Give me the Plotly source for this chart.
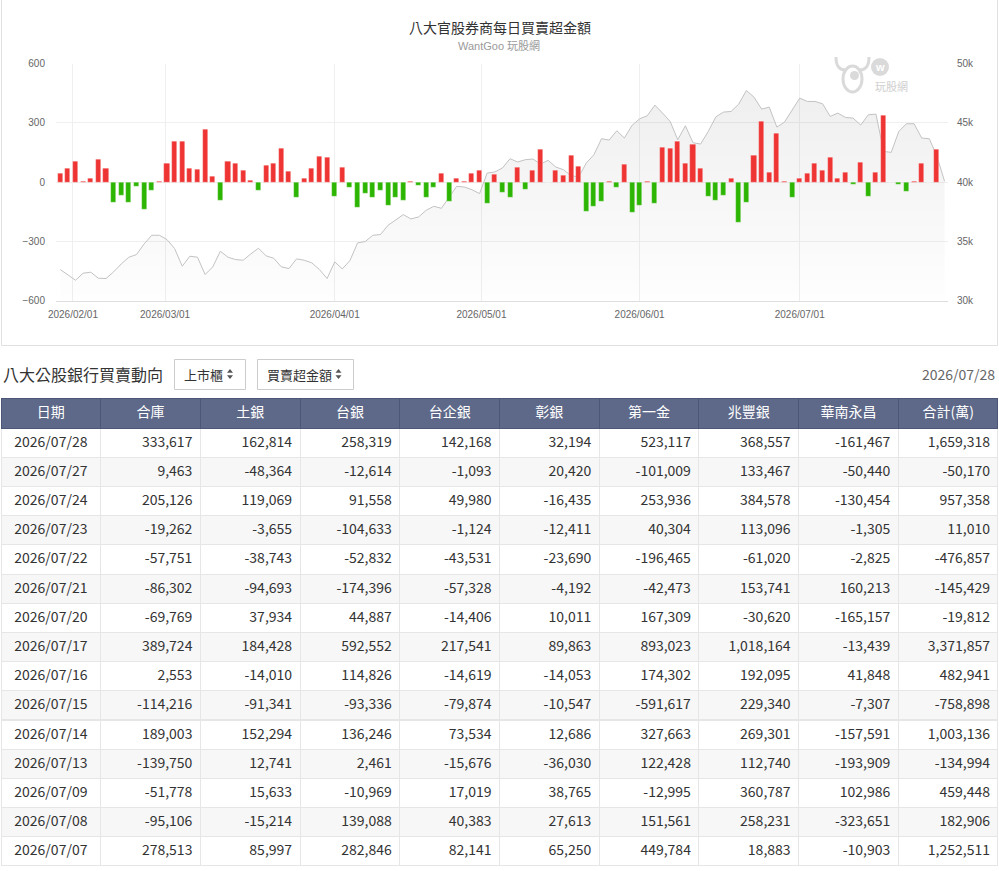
"""八大官股券商每日買賣超金額 chart with the daily table of the eight public banks."""
import pandas as pd
import plotly.graph_objects as go

W, H = 999, 871
CJK = "Noto Sans CJK TC"
LATIN = "Liberation Sans, Noto Sans CJK TC"

# Trading calendar (Taiwan market closed on these weekdays)
HOLIDAYS = ["2026-02-12", "2026-02-13", "2026-02-16", "2026-02-17", "2026-02-18",
            "2026-02-19", "2026-02-20", "2026-02-27", "2026-04-03", "2026-04-06",
            "2026-05-01", "2026-06-19", "2026-07-10"]
TRADE_DAYS = [d for d in pd.bdate_range("2026-01-29", "2026-07-29")
              if d.strftime("%Y-%m-%d") not in HOLIDAYS]

# daily net buy of the eight official brokers (億), 2026/01/29 .. 2026/07/28
NET_BUY = [42, 66, 103, 0.3, 20, 116, 66, -103, -66, -103,
           -25, -140, -44, 3, 93, 204, 204, 66, 61, 265,
           29, -93, 106, 93, 56, 7, -44, 83, 93, 170,
           51, -76, 20, 66, 128, 125, -72, 71, -30, -130,
           -56, -76, -44, -121, -79, -93, 0.4, -17, -76, -30,
           42, -98, 20, 3, 42, 56, -111, 37, -52, -79,
           74, -39, 56, 167, -5, 56, 32, 133, 78, -148,
           -125, -98, 2, -30, 88, -152, -121, 0.5, -108, 174,
           170, 207, 93, 189, 66, -71, -93, -66, 17, -207,
           -103, 133, 307, 47, 248, 2, -76, 20, 42, 93,
           56, 125.3, 18.3, 45.9, -13.5, 100.3, -75.9, 48.3, 337.2, -2.0,
           -14.5, -47.7, 1.1, 95.7, -5.0, 165.9]

# TAIEX close, 2026/01/29 .. 2026/07/29
INDEX_CLOSE = [32612, 32163, 31714, 32303, 32387, 31882, 31854, 32416, 33090, 33652,
               33876, 34775, 35506, 35506, 35140, 34382, 32893, 33736, 33652, 32191,
               32837, 34157, 33652, 33455, 33399, 33933, 34410, 33764, 33567, 32837,
               32697, 33511, 33399, 33174, 32612, 31854, 33258, 32668, 33371, 34860,
               34972, 35506, 35562, 36348, 36826, 37247, 36882, 37050, 37612, 37949,
               37781, 38736, 39635, 39579, 39354, 39017, 40758, 40843, 41180, 41966,
               41685, 41882, 41938, 41517, 41826, 41264, 41039, 40534, 40421, 41601,
               42303, 43652, 43539, 44326, 43708, 44775, 45337, 45590, 46489, 45815,
               45112, 43567, 44747, 43315, 43202, 44270, 45500, 45899, 45955, 46573,
               47725, 47163, 46152, 46320, 44635, 45056, 46096, 47079, 46798, 46798,
               46601, 45534, 45815, 45449, 45393, 44803, 45674, 45730, 42584, 42500,
               44270, 44916, 44916, 43708, 43652, 42163, 40056]

MONTH_TICKS = ["2026-02-01", "2026-03-01", "2026-04-01", "2026-05-01", "2026-06-01", "2026-07-01"]

# table
HEADERS = ["日期", "合庫", "土銀", "台銀", "台企銀", "彰銀", "第一金", "兆豐銀", "華南永昌", "合計(萬)"]
TABLE_DATES = ["2026/07/28", "2026/07/27", "2026/07/24", "2026/07/23", "2026/07/22",
               "2026/07/21", "2026/07/20", "2026/07/17", "2026/07/16", "2026/07/15",
               "2026/07/14", "2026/07/13", "2026/07/09", "2026/07/08", "2026/07/07"]
HEKU = [333617, 9463, 205126, -19262, -57751, -86302, -69769, 389724, 2553, -114216,
        189003, -139750, -51778, -95106, 278513]
TUYIN = [162814, -48364, 119069, -3655, -38743, -94693, 37934, 184428, -14010, -91341,
         152294, 12741, 15633, -15214, 85997]
TAIYIN = [258319, -12614, 91558, -104633, -52832, -174396, 44887, 592552, 114826, -93336,
          136246, 2461, -10969, 139088, 282846]
TAIQIYIN = [142168, -1093, 49980, -1124, -43531, -57328, -14406, 217541, -14619, -79874,
            73534, -15676, 17019, 40383, 82141]
ZHANGYIN = [32194, 20420, -16435, -12411, -23690, -4192, 10011, 89863, -14053, -10547,
            12686, -36030, 38765, 27613, 65250]
DIYIJIN = [523117, -101009, 253936, 40304, -196465, -42473, 167309, 893023, 174302, -591617,
           327663, 122428, -12995, 151561, 449784]
ZHAOFENG = [368557, 133467, 384578, 113096, -61020, 153741, -30620, 1018164, 192095, 229340,
            269301, 112740, 360787, 258231, 18883]
HUANAN = [-161467, -50440, -130454, -1305, -2825, 160213, -165157, -13439, 41848, -7307,
          -157591, -193909, 102986, -323651, -10903]
TOTAL = [1659318, -50170, 957358, 11010, -476857, -145429, -19812, 3371857, 482941, -758898,
         1003136, -134994, 459448, 182906, 1252511]


def px(x):
    return x / W


def py(y):
    return 1 - y / H


def day_position(day):
    """Position of a calendar day on the trading-day axis (interpolated on closed days)."""
    stamps = pd.DatetimeIndex(TRADE_DAYS)
    day = pd.Timestamp(day)
    i = stamps.searchsorted(day)
    if stamps[i] == day:
        return i
    prev, nxt = stamps[i - 1], stamps[i]
    return i - 1 + (day - prev).days / (nxt - prev).days


def pt(x, y):
    return f"{px(x):.5f},{py(y):.5f}"


def polygon(*xy):
    return "M " + " L ".join(pt(x, y) for x, y in xy) + " Z"


fig = go.Figure()

fig.add_trace(go.Scatter(
    x=list(range(len(INDEX_CLOSE))), y=INDEX_CLOSE, yaxis="y", mode="lines",
    line=dict(color="#c2c2c2", width=1),
    fill="tozeroy",
    fillgradient=dict(type="vertical", start=30000, stop=48000,
                      colorscale=[[0, "rgba(0,0,0,0.005)"], [1, "rgba(0,0,0,0.065)"]]),
    hoverinfo="skip"))

fig.add_trace(go.Bar(
    x=list(range(len(NET_BUY))), y=NET_BUY, yaxis="y2", width=0.66,
    marker=dict(color=["#ef3434" if v >= 0 else "#2db503" for v in NET_BUY],
                line=dict(color="rgba(255,255,255,0.45)", width=0.6)),
    customdata=[d.strftime("%Y/%m/%d") for d in TRADE_DAYS[:len(NET_BUY)]],
    hovertemplate="%{customdata}<br>%{y}億<extra></extra>"))

tick_font = dict(family=LATIN, size=10, color="#666666")
plot_dom = [py(300.5), py(63.5)]

fig.update_layout(
    width=W, height=H, margin=dict(l=0, r=0, t=0, b=0, autoexpand=False),
    paper_bgcolor="white", plot_bgcolor="white", showlegend=False, bargap=0,
    xaxis=dict(domain=[px(56), px(948)], range=[-0.56, 116.45], anchor="y", automargin=False,
               tickmode="array", tickvals=[day_position(d) for d in MONTH_TICKS],
               ticktext=[d.replace("-", "/") for d in MONTH_TICKS],
               showgrid=True, gridcolor="#efefef", gridwidth=1, zeroline=False,
               showline=True, linecolor="#dedede", ticks="", tickfont=tick_font,
               ticklabelstandoff=4),
    yaxis=dict(domain=plot_dom, range=[30000, 50000], side="right", anchor="x", automargin=False,
               tickvals=[30000, 35000, 40000, 45000, 50000],
               ticktext=["30k", "35k", "40k", "45k", "50k"],
               showgrid=True, gridcolor="#efefef", zeroline=False, ticks="",
               tickfont=tick_font, ticklabelstandoff=8),
    yaxis2=dict(range=[-600, 600], overlaying="y", side="left", anchor="x", automargin=False,
                tickvals=[-600, -300, 0, 300, 600], showgrid=False, zeroline=False,
                ticks="", tickfont=tick_font, ticklabelstandoff=10),
)

shapes = [
    # chart card border (top edge lies above the window)
    dict(type="rect", xref="paper", yref="paper", x0=px(1.5), x1=px(997.5), y0=py(345.5), y1=py(-6),
         line=dict(color="#e0e0e0", width=1), layer="below"),
    # select boxes
    dict(type="rect", xref="paper", yref="paper", x0=px(174.5), x1=px(245.5), y0=py(389.5), y1=py(359.5),
         line=dict(color="#cccccc", width=1)),
    dict(type="rect", xref="paper", yref="paper", x0=px(257.5), x1=px(353.5), y0=py(389.5), y1=py(359.5),
         line=dict(color="#cccccc", width=1)),
]
for cx in (230, 338.5):
    shapes.append(dict(type="path", xref="paper", yref="paper",
                       path=polygon((cx - 3, 372.8), (cx + 3, 372.8), (cx, 369)),
                       fillcolor="#555555", line=dict(width=0)))
    shapes.append(dict(type="path", xref="paper", yref="paper",
                       path=polygon((cx - 3, 375.2), (cx + 3, 375.2), (cx, 379)),
                       fillcolor="#555555", line=dict(width=0)))

# watermark logo
logo = "#dadada"
shapes += [
    dict(type="path", xref="paper", yref="paper", line=dict(color=logo, width=3),
         path=f"M {pt(836, 57)} Q {pt(836, 71)} {pt(847, 70)}"),
    dict(type="path", xref="paper", yref="paper", line=dict(color=logo, width=3),
         path=f"M {pt(869, 57)} Q {pt(869, 71)} {pt(858, 70)}"),
    dict(type="circle", xref="paper", yref="paper", x0=px(843), x1=px(862), y0=py(92), y1=py(66),
         line=dict(color=logo, width=3), fillcolor="white"),
    dict(type="circle", xref="paper", yref="paper", x0=px(850), x1=px(859), y0=py(80), y1=py(71),
         line=dict(width=0), fillcolor=logo),
    dict(type="circle", xref="paper", yref="paper", x0=px(871), x1=px(889), y0=py(76), y1=py(58),
         line=dict(width=0), fillcolor=logo),
]

annotations = [
    dict(text="八大官股券商每日買賣超金額", x=px(500), y=py(27), font=dict(family=CJK, size=14, color="#333333")),
    dict(text="WantGoo 玩股網", x=px(499), y=py(46), font=dict(family=LATIN, size=11, color="#9a9a9a")),
    dict(text="<b>w</b>", x=px(880), y=py(66.5), font=dict(family=LATIN, size=11, color="white")),
    dict(text="玩股網", x=px(891), y=py(86), font=dict(family=CJK, size=11, color="#cfcfcf")),
    dict(text="八大公股銀行買賣動向", x=px(1), y=py(374), xanchor="left",
         font=dict(family=CJK, size=16, color="#333333")),
    dict(text="上市櫃", x=px(182), y=py(374.5), xanchor="left", font=dict(family=CJK, size=13, color="#333333")),
    dict(text="買賣超金額", x=px(265), y=py(374.5), xanchor="left", font=dict(family=CJK, size=13, color="#333333")),
    dict(text="2026/07/28", x=px(997), y=py(373.5), xanchor="right", font=dict(family=CJK, size=14, color="#666666")),
]
for a in annotations:
    a.setdefault("xanchor", "center")
    a.update(xref="paper", yref="paper", yanchor="middle", showarrow=False)

fig.update_layout(shapes=shapes, annotations=annotations)

# table
columns = [TABLE_DATES] + [[f"{v:,}" for v in col] for col in
                           (HEKU, TUYIN, TAIYIN, TAIQIYIN, ZHANGYIN, DIYIJIN, ZHAOFENG, HUANAN, TOTAL)]
row_fill = ["#ffffff" if i % 2 == 0 else "#f7f7f7" for i in range(len(TABLE_DATES))]
fig.add_trace(go.Table(
    domain=dict(x=[px(1), px(998)], y=[0, py(398)]),
    columnwidth=[1] * len(HEADERS),
    header=dict(values=HEADERS, fill_color="#5e6989", line_color="#4c5677", height=30,
                align="center", font=dict(family=CJK, size=14, color="white")),
    cells=dict(values=columns, fill_color=[row_fill] * len(HEADERS), line_color="#e6e6e6",
               height=29.2, align=["center"] + ["right"] * (len(HEADERS) - 1),
               font=dict(family=CJK, size=14, color="#333333")),
))

# no body margin and no scrollbars, so the figure sits at the window origin
fig.write_html("out.html", config={"displayModeBar": False},
               post_script="document.body.style.margin='0';"
                           "document.documentElement.style.overflow='hidden';")
